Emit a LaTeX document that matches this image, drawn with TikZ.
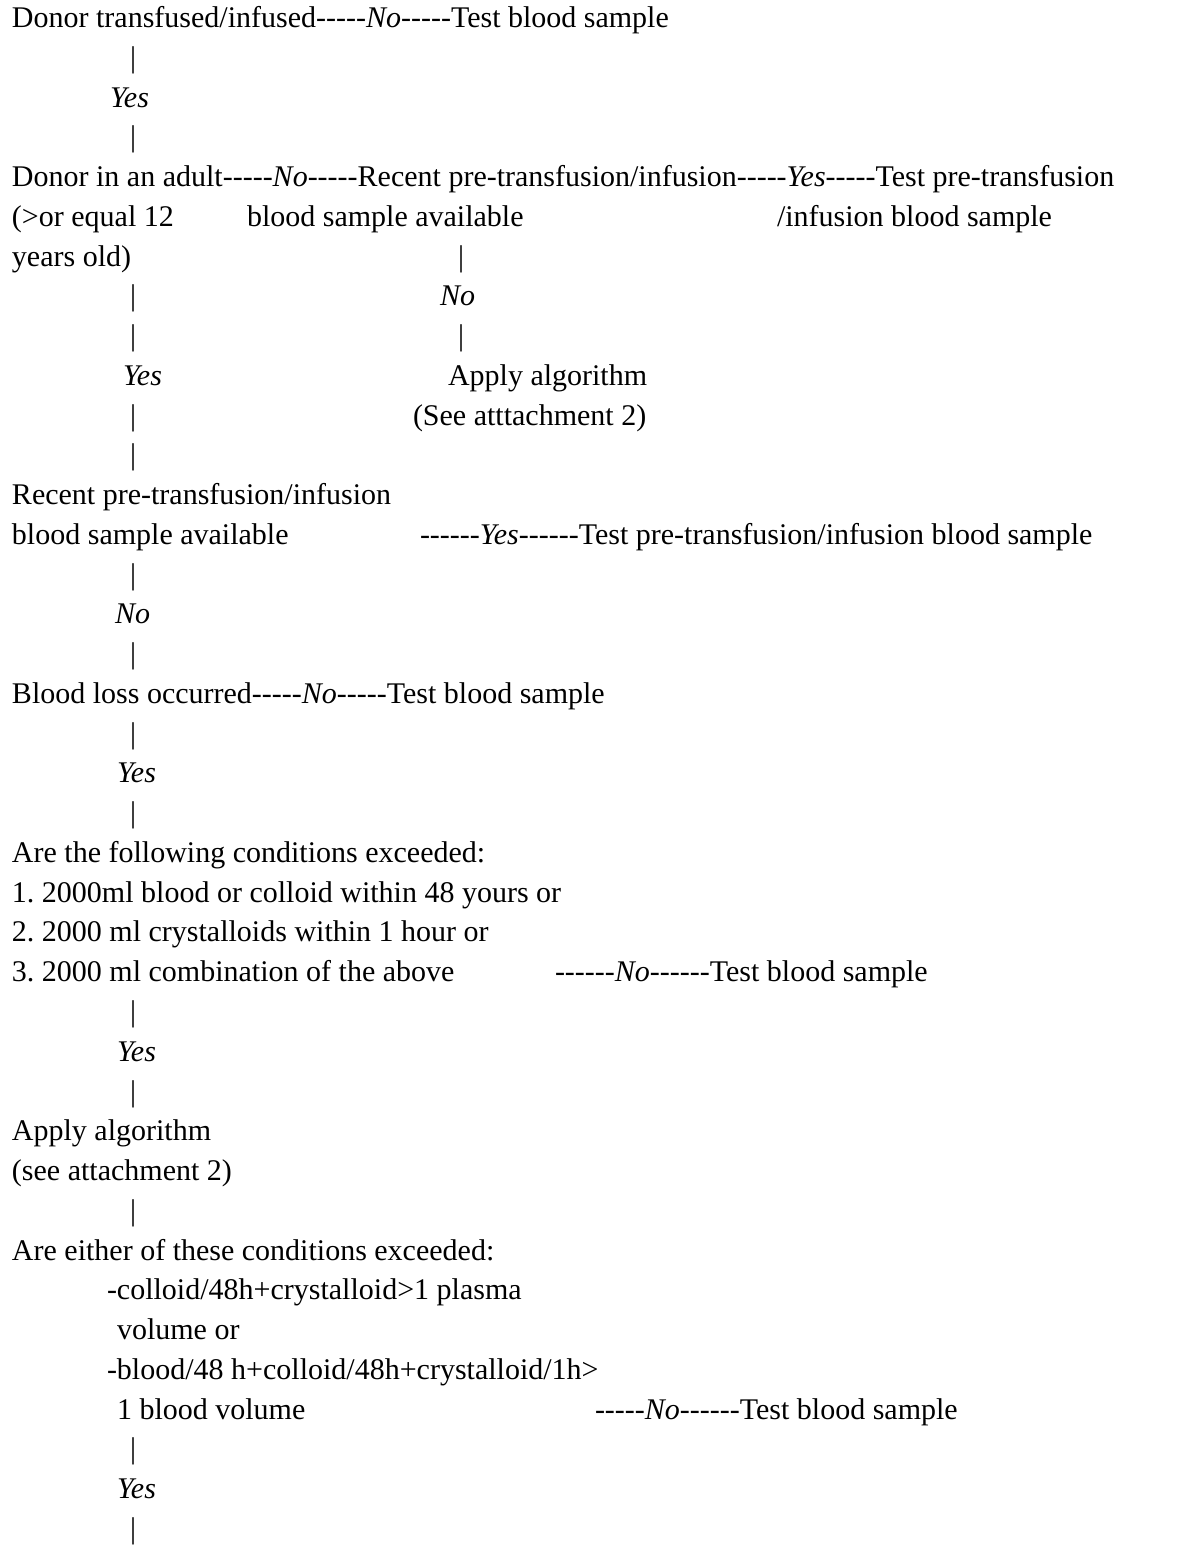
\documentclass[tikz,border=0pt]{standalone}
\usepackage{fontspec}
\setmainfont{Liberation Serif}
\frenchspacing
\begin{document}
\begin{tikzpicture}[x=1pt,y=-39.76pt,
  txt/.style={anchor=base west,inner sep=0pt,outer sep=0pt,font=\fontsize{30}{36}\selectfont\frenchspacing},
  bar/.style={txt},
  lab/.style={txt,font=\fontsize{30}{36}\selectfont\itshape}]
\useasboundingbox (0,0) rectangle (1196,{1548/39.76});
\begin{scope}[yshift=-27.5pt]
% line 0
\node[txt] (d0) at (12,0) {Donor transfused/infused};
\node[txt] (c0) at (d0.base east) {-{}-{}-{}-{}-\textit{No}-{}-{}-{}-{}-};
\node[txt] (r0) at (c0.base east) {Test blood sample};
\node[bar] (b1) at (130,1) {|};
\node[lab] (y2) at (110,2) {Yes};
\node[bar] (b3) at (130,3) {|};
% line 4
\node[txt] (d4) at (12,4) {Donor in an adult};
\node[txt] (c4a) at (d4.base east) {-{}-{}-{}-{}-\textit{No}-{}-{}-{}-{}-};
\node[txt] (d4b) at (c4a.base east) {Recent pre-transfusion/infusion};
\node[txt] (c4b) at (d4b.base east) {-{}-{}-{}-{}-\textit{Yes}-{}-{}-{}-{}-};
\node[txt] (r4) at (c4b.base east) {Test pre-transfusion};
\node[txt] (d5) at (12,5) {(>or equal 12};
\node[txt] (d5b) at (247,5) {blood sample available};
\node[txt] (r5) at (777,5) {/infusion blood sample};
\node[txt] (d6) at (12,6) {years old)};
\node[bar] (b6) at (458,6) {|};
\node[bar] (b7) at (130,7) {|};
\node[lab] (n7) at (440,7) {No};
\node[bar] (b8) at (130,8) {|};
\node[bar] (b8b) at (458,8) {|};
\node[lab] (y9) at (123,9) {Yes};
\node[txt] (a9) at (448,9) {Apply algorithm};
\node[bar] (b10) at (130,10) {|};
\node[txt] (a10) at (413,10) {(See atttachment 2)};
\node[bar] (b11) at (130,11) {|};
% line 12
\node[txt] (d12) at (12,12) {Recent pre-transfusion/infusion};
\node[txt] (d13) at (12,13) {blood sample available};
\node[txt] (c13) at (420,13) {-{}-{}-{}-{}-{}-\textit{Yes}-{}-{}-{}-{}-{}-};
\node[txt] (r13) at (c13.base east) {Test pre-transfusion/infusion blood sample};
\node[bar] (b14) at (130,14) {|};
\node[lab] (n15) at (115,15) {No};
\node[bar] (b16) at (130,16) {|};
% line 17
\node[txt] (d17) at (12,17) {Blood loss occurred};
\node[txt] (c17) at (d17.base east) {-{}-{}-{}-{}-\textit{No}-{}-{}-{}-{}-};
\node[txt] (r17) at (c17.base east) {Test blood sample};
\node[bar] (b18) at (130,18) {|};
\node[lab] (y19) at (117,19) {Yes};
\node[bar] (b20) at (130,20) {|};
% line 21
\node[txt] (d21) at (12,21) {Are the following conditions exceeded:};
\node[txt] (d22) at (12,22) {1. 2000ml blood or colloid within 48 yours or};
\node[txt] (d23) at (12,23) {2. 2000 ml crystalloids within 1 hour or};
\node[txt] (d24) at (12,24) {3. 2000 ml combination of the above};
\node[txt] (c24) at (555,24) {-{}-{}-{}-{}-{}-\textit{No}-{}-{}-{}-{}-{}-};
\node[txt] (r24) at (c24.base east) {Test blood sample};
\node[bar] (b25) at (130,25) {|};
\node[lab] (y26) at (117,26) {Yes};
\node[bar] (b27) at (130,27) {|};
% line 28
\node[txt] (d28) at (12,28) {Apply algorithm};
\node[txt] (d29) at (12,29) {(see attachment 2)};
\node[bar] (b30) at (130,30) {|};
\node[txt] (d31) at (12,31) {Are either of these conditions exceeded:};
\node[txt] (d32) at (107,32) {-colloid/48h+crystalloid>1 plasma};
\node[txt] (d33) at (117,33) {volume or};
\node[txt] (d34) at (107,34) {-blood/48 h+colloid/48h+crystalloid/1h>};
\node[txt] (d35) at (117,35) {1 blood volume};
\node[txt] (c35) at (595,35) {-{}-{}-{}-{}-\textit{No}-{}-{}-{}-{}-{}-};
\node[txt] (r35) at (c35.base east) {Test blood sample};
\node[bar] (b36) at (130,36) {|};
\node[lab] (y37) at (117,37) {Yes};
\node[bar] (b38) at (130,38) {|};
\end{scope}
\end{tikzpicture}
\end{document}
